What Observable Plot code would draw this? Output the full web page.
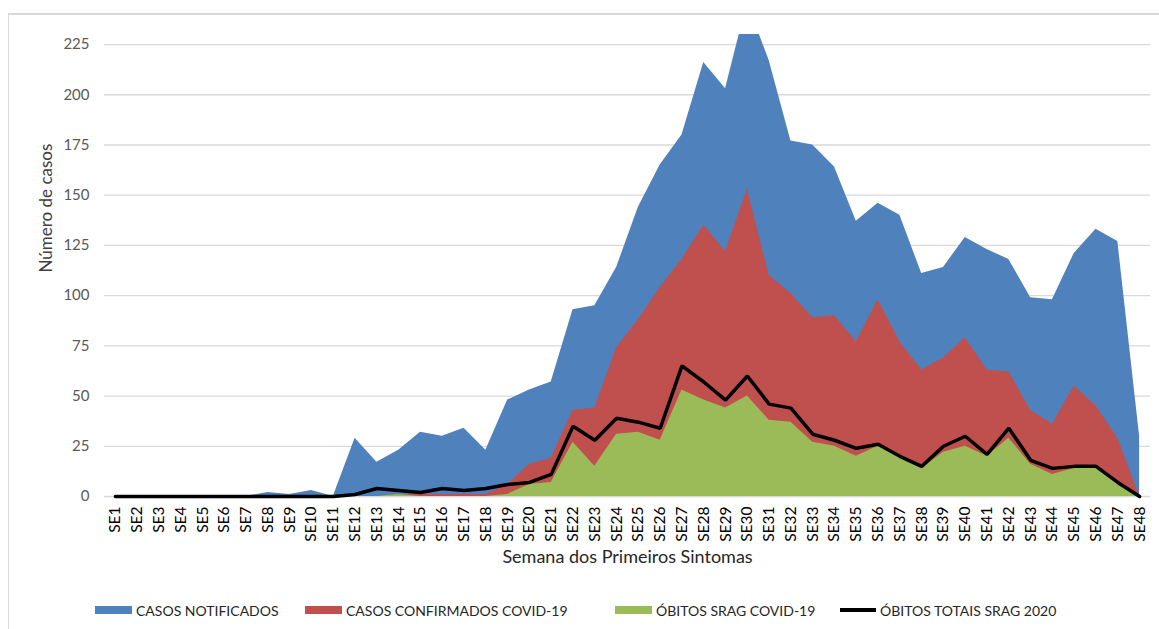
<!DOCTYPE html>
<html>
<head>
<meta charset="utf-8">
<script src="https://cdn.jsdelivr.net/npm/d3@7"></script>
<script src="https://cdn.jsdelivr.net/npm/@observablehq/plot@0.6"></script>
<style>
  html, body { margin: 0; padding: 0; background: #fff; }
  #wrap { position: relative; width: 1159px; height: 629px; overflow: hidden; font-family: Lato, "Open Sans", sans-serif; }
  #frame { position: absolute; left: 8px; top: 13px; width: 1300px; height: 800px; border-left: 1.5px solid #d9d9d9; border-top: 2px solid #d9d9d9; pointer-events: none; }
  .lg { position: absolute; top: 600px; height: 20px; display: flex; align-items: center; font-size: 14px; color: #262626; white-space: nowrap; }
  .sw { display: inline-block; width: 37px; height: 8px; margin-right: 4px; }
  .ln { display: inline-block; width: 36px; height: 4px; background: #000; margin-right: 4px; }
</style>
</head>
<body>
<div id="wrap">
  <div id="chart"></div>
  <div id="frame"></div>
  <div class="lg" style="left:95px"><span class="sw" style="background:#4F81BD"></span>CASOS NOTIFICADOS</div>
  <div class="lg" style="left:305px"><span class="sw" style="background:#C0504D"></span>CASOS CONFIRMADOS COVID-19</div>
  <div class="lg" style="left:615px"><span class="sw" style="background:#9BBB59"></span>ÓBITOS SRAG COVID-19</div>
  <div class="lg" style="left:840px"><span class="ln"></span>ÓBITOS TOTAIS SRAG 2020</div>
</div>
<script>
const weeks = ["SE1","SE2","SE3","SE4","SE5","SE6","SE7","SE8","SE9","SE10","SE11","SE12","SE13","SE14","SE15","SE16","SE17","SE18","SE19","SE20","SE21","SE22","SE23","SE24","SE25","SE26","SE27","SE28","SE29","SE30","SE31","SE32","SE33","SE34","SE35","SE36","SE37","SE38","SE39","SE40","SE41","SE42","SE43","SE44","SE45","SE46","SE47","SE48"];

const casosNotificados = [0,0,0,0,0,0,0,2,1,3,0,29,17,23,32,30,34,23,48,53,57,93,95,114,144,165,180,216,203,246,217,177,175,164,137,146,140,111,114,129,123,118,99,98,121,133,127,30];

const casosConfirmados = [0,0,0,0,0,0,0,0,0,0,0,0,0,1,1,1,1,1,6,16,19,43,44,74,88,104,118,135,122,153,110,101,89,90,77,98,77,63,69,79,63,62,43,36,55,45,29,0];

const obitosSragCovid = [0,0,0,0,0,0,0,0,0,0,0,0,0,1,0,0,0,0,1,6,7,27,15,31,32,28,53,48,44,50,38,37,27,25,20,25,20,14,22,25,20,29,16,11,14,15,7,0];

const obitosTotaisSrag = [0,0,0,0,0,0,0,0,0,0,0,1,4,3,2,4,3,4,6,7,11,35,28,39,37,34,65,57,48,60,46,44,31,28,24,26,20,15,25,30,21,34,18,14,15,15,7,0];

const yTicks = [0,25,50,75,100,125,150,175,200,225];

const rows = weeks.map((w, i) => ({
  week: w,
  notif: casosNotificados[i],
  conf: casosConfirmados[i],
  obCovid: obitosSragCovid[i],
  obTotal: obitosTotaisSrag[i]
}));

const chart = Plot.plot({
  width: 1159,
  height: 580,
  marginLeft: 104,
  marginRight: 9,
  marginTop: 34,
  marginBottom: 84,
  style: { fontFamily: "Lato, 'Open Sans', sans-serif", background: "transparent", overflow: "visible" },
  x: { type: "point", domain: weeks, padding: 0.5 },
  y: { domain: [0, 230] },
  marks: [
    Plot.ruleY(yTicks, { stroke: "#d9d9d9", strokeWidth: 1.3 }),
    Plot.areaY(rows, { x: "week", y1: 0, y2: "notif", fill: "#4F81BD", clip: true }),
    Plot.areaY(rows, { x: "week", y1: 0, y2: "conf", fill: "#C0504D", clip: true }),
    Plot.areaY(rows, { x: "week", y1: 0, y2: "obCovid", fill: "#9BBB59", clip: true }),
    Plot.lineY(rows, { x: "week", y: "obTotal", stroke: "#000", strokeWidth: 3.5, strokeLinejoin: "miter" }),
    Plot.axisY({ ticks: yTicks, tickSize: 0, tickPadding: 15, label: null, fontSize: 15, color: "#595959" }),
    Plot.axisX({ tickSize: 0, tickPadding: 10, tickRotate: -90, label: null, fontSize: 15.5, color: "#000" }),
    Plot.text(["Número de casos"], { frameAnchor: "left", rotate: -90, dx: -58, dy: 7, fontSize: 17, fill: "#404040" }),
    Plot.text(["Semana dos Primeiros Sintomas"], { frameAnchor: "bottom", dy: 66, fontSize: 18, fill: "#262626" })
  ]
});
document.getElementById("chart").appendChild(chart);
</script>
</body>
</html>
